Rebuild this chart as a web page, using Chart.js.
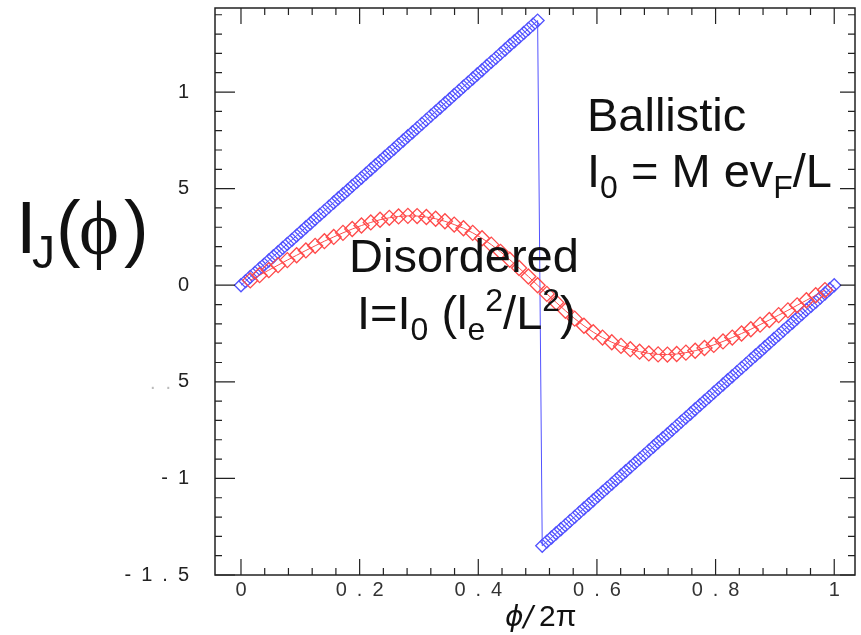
<!DOCTYPE html>
<html>
<head>
<meta charset="utf-8">
<script src="https://cdn.jsdelivr.net/npm/chart.js@4"></script>
<style>
  html, body { margin: 0; padding: 0; background: #fff; }
  #wrap { width: 861px; height: 635px; position: relative; }
</style>
</head>
<body>
<div id="wrap"><canvas id="jcChart"></canvas></div>
<script>
// ===================== Data =====================
const phiBallistic = [
  0, 0.0078, 0.0156, 0.0234, 0.0313, 0.0391, 0.0469, 0.0547, 0.0625, 0.0703, 0.0781, 0.0859, 0.0938, 0.1016, 0.1094, 0.1172,
  0.125, 0.1328, 0.1406, 0.1484, 0.1563, 0.1641, 0.1719, 0.1797, 0.1875, 0.1953, 0.2031, 0.2109, 0.2188, 0.2266, 0.2344, 0.2422,
  0.25, 0.2578, 0.2656, 0.2734, 0.2813, 0.2891, 0.2969, 0.3047, 0.3125, 0.3203, 0.3281, 0.3359, 0.3438, 0.3516, 0.3594, 0.3672,
  0.375, 0.3828, 0.3906, 0.3984, 0.4063, 0.4141, 0.4219, 0.4297, 0.4375, 0.4453, 0.4531, 0.4609, 0.4688, 0.4766, 0.4844, 0.4922,
  0.5,
  0.5078, 0.5156, 0.5234, 0.5313, 0.5391, 0.5469, 0.5547, 0.5625, 0.5703, 0.5781, 0.5859, 0.5938, 0.6016, 0.6094, 0.6172, 0.625,
  0.6328, 0.6406, 0.6484, 0.6563, 0.6641, 0.6719, 0.6797, 0.6875, 0.6953, 0.7031, 0.7109, 0.7188, 0.7266, 0.7344, 0.7422, 0.75,
  0.7578, 0.7656, 0.7734, 0.7813, 0.7891, 0.7969, 0.8047, 0.8125, 0.8203, 0.8281, 0.8359, 0.8438, 0.8516, 0.8594, 0.8672, 0.875,
  0.8828, 0.8906, 0.8984, 0.9063, 0.9141, 0.9219, 0.9297, 0.9375, 0.9453, 0.9531, 0.9609, 0.9688, 0.9766, 0.9844, 0.9922, 1
];
const currentBallistic = [
  0, 0.021, 0.043, 0.064, 0.086, 0.107, 0.128, 0.150, 0.171, 0.193, 0.214, 0.235, 0.257, 0.278, 0.300, 0.321,
  0.343, 0.364, 0.385, 0.407, 0.428, 0.450, 0.471, 0.492, 0.514, 0.535, 0.556, 0.578, 0.599, 0.621, 0.642, 0.664,
  0.685, 0.706, 0.728, 0.749, 0.771, 0.792, 0.813, 0.835, 0.856, 0.878, 0.899, 0.920, 0.942, 0.963, 0.985, 1.006,
  1.028, 1.049, 1.070, 1.092, 1.113, 1.135, 1.156, 1.177, 1.199, 1.220, 1.242, 1.263, 1.284, 1.306, 1.327, 1.349,
  1.370,
  -1.349, -1.327, -1.306, -1.284, -1.263, -1.242, -1.220, -1.199, -1.177, -1.156, -1.135, -1.113, -1.092, -1.070, -1.049, -1.028,
  -1.006, -0.985, -0.963, -0.942, -0.920, -0.899, -0.878, -0.856, -0.835, -0.813, -0.792, -0.771, -0.749, -0.728, -0.706, -0.685,
  -0.664, -0.642, -0.621, -0.599, -0.578, -0.556, -0.535, -0.514, -0.492, -0.471, -0.450, -0.428, -0.407, -0.385, -0.364, -0.343,
  -0.321, -0.300, -0.278, -0.257, -0.235, -0.214, -0.193, -0.171, -0.150, -0.128, -0.107, -0.086, -0.064, -0.043, -0.021, 0
];

const phiDisordered = [
  0.0156, 0.0313, 0.0469, 0.0625, 0.0781, 0.0938, 0.1094, 0.125, 0.1406, 0.1563, 0.1719, 0.1875, 0.2031, 0.2188, 0.2344, 0.25,
  0.2656, 0.2813, 0.2969, 0.3125, 0.3281, 0.3438, 0.3594, 0.375, 0.3906, 0.4063, 0.4219, 0.4375, 0.4531, 0.4688, 0.4844, 0.5,
  0.5156, 0.5313, 0.5469, 0.5625, 0.5781, 0.5938, 0.6094, 0.625, 0.6406, 0.6563, 0.6719, 0.6875, 0.7031, 0.7188, 0.7344, 0.75,
  0.7656, 0.7813, 0.7969, 0.8125, 0.8281, 0.8438, 0.8594, 0.875, 0.8906, 0.9063, 0.9219, 0.9375, 0.9531, 0.9688, 0.9844
];
const currentDisordered = [
  0.025, 0.052, 0.078, 0.104, 0.130, 0.155, 0.180, 0.204, 0.228, 0.250, 0.271, 0.291, 0.309, 0.325, 0.339, 0.349,
  0.356, 0.359, 0.358, 0.353, 0.344, 0.331, 0.314, 0.295, 0.271, 0.243, 0.210, 0.173, 0.132, 0.089, 0.045, 0,
  -0.045, -0.089, -0.132, -0.173, -0.210, -0.243, -0.271, -0.295, -0.314, -0.331, -0.344, -0.353, -0.358, -0.359, -0.356, -0.349,
  -0.339, -0.325, -0.309, -0.291, -0.271, -0.250, -0.228, -0.204, -0.180, -0.155, -0.130, -0.104, -0.078, -0.052, -0.025
];

const xTickValues = [0, 0.2, 0.4, 0.6, 0.8, 1];
const xTickLabels = ['0', '0\u2002.\u20022', '0\u2002.\u20024', '0\u2002.\u20026', '0\u2002.\u20028', '1'];
const yTickValues = [-1.5, -1, -0.5, 0, 0.5, 1];
const yTickLabels = ['-\u20021\u2002.\u20025', '-\u20021', '5', '0', '5', '1'];

const toPoints = (xs, ys) => xs.map((x, i) => ({ x: x, y: ys[i] }));

// ===================== Frame, inner ticks, labels =====================
const framePlugin = {
  id: 'frame',
  afterDraw(chart) {
    const { ctx, chartArea: a, scales: { x, y } } = chart;
    ctx.save();
    ctx.strokeStyle = '#222';
    ctx.lineWidth = 1.5;
    ctx.strokeRect(a.left, a.top, a.right - a.left, a.bottom - a.top);

    ctx.lineWidth = 1.2;
    ctx.beginPath();
    // x ticks, every 0.04, major every 0.2
    for (let i = 0; i <= 25; i++) {
      const px = x.getPixelForValue(i * 0.04);
      const len = i % 5 === 0 ? 16 : 7;
      ctx.moveTo(px, a.bottom); ctx.lineTo(px, a.bottom - len);
      ctx.moveTo(px, a.top); ctx.lineTo(px, a.top + len);
    }
    // y ticks, every 0.1, major every 0.5
    for (let i = -15; i <= 14; i++) {
      const py = y.getPixelForValue(i * 0.1);
      const len = i % 5 === 0 ? 20 : 7;
      ctx.moveTo(a.left, py); ctx.lineTo(a.left + len, py);
      ctx.moveTo(a.right, py); ctx.lineTo(a.right - (i % 5 === 0 ? 15 : 7), py);
    }
    ctx.stroke();

    // faint dots left of the -0.5 label
    ctx.fillStyle = '#bbb';
    ctx.font = '20px "Liberation Sans"';
    ctx.textAlign = 'left';
    ctx.textBaseline = 'middle';
    ctx.fillText('.\u2002.', 150, y.getPixelForValue(-0.5) + 2);

    // axis title
    ctx.fillStyle = '#111';
    ctx.textBaseline = 'alphabetic';
    const cx = (a.left + a.right) / 2;
    ctx.font = 'italic 28px "DejaVu Sans"';
    ctx.textAlign = 'right';
    ctx.fillText('\u03D5/', cx - 2, 626);
    ctx.textAlign = 'left';
    ctx.font = '30px "Liberation Sans"';
    ctx.fillText('2\u03C0', cx + 4, 626);

    // I_J(phi)
    ctx.font = '74px "Liberation Sans"';
    ctx.fillText('I', 16, 253);
    ctx.font = '46px "Liberation Sans"';
    ctx.fillText('J', 32, 268);
    ctx.font = '74px "Liberation Sans"';
    ctx.fillText('(', 56, 253);
    ctx.font = '76px "Liberation Serif"';
    ctx.fillText('\u03D5', 79, 254);
    ctx.font = '74px "Liberation Sans"';
    ctx.fillText(')', 124, 253);

    // annotations
    const runs = (x0, base, parts) => {
      let px = x0;
      parts.forEach(p => {
        ctx.font = p.size + 'px "Liberation Sans"';
        ctx.fillText(p.t, px, base + (p.dy || 0));
        px += ctx.measureText(p.t).width;
      });
    };
    runs(587, 131, [{ t: 'Ballistic', size: 47 }]);
    runs(587, 187, [{ t: 'I', size: 47 }, { t: '0', size: 32, dy: 11 }, { t: ' = M ev', size: 47 },
                    { t: 'F', size: 32, dy: 11 }, { t: '/L', size: 47 }]);
    runs(349, 272, [{ t: 'Disordered', size: 47 }]);
    runs(357, 329, [{ t: 'I=I', size: 47 }, { t: '0', size: 32, dy: 11 }, { t: ' (l', size: 47 },
                    { t: 'e', size: 32, dy: 11 }, { t: '2', size: 32, dy: -18 }, { t: '/L', size: 47 },
                    { t: '2', size: 32, dy: -18 }, { t: ')', size: 47 }]);
    ctx.restore();
  }
};

// ===================== Chart =====================
const ctx = document.getElementById('jcChart').getContext('2d');
new Chart(ctx, {
  type: 'line',
  data: {
    datasets: [
      {
        label: 'Disordered',
        data: toPoints(phiDisordered, currentDisordered),
        borderColor: '#ff4a4a',
        borderWidth: 1,
        pointStyle: 'rectRot',
        pointRadius: 7.5,
        pointBorderWidth: 1.3,
        pointBorderColor: '#ff4a4a',
        pointBackgroundColor: 'rgba(0,0,0,0)',
        fill: false,
        tension: 0
      },
      {
        label: 'Ballistic',
        data: toPoints(phiBallistic, currentBallistic),
        borderColor: '#5252ff',
        borderWidth: 1,
        pointStyle: 'rectRot',
        pointRadius: 6.5,
        pointBorderWidth: 1.3,
        pointBorderColor: '#5252ff',
        pointBackgroundColor: 'rgba(0,0,0,0)',
        fill: false,
        tension: 0
      }
    ]
  },
  options: {
    responsive: true,
    maintainAspectRatio: false,
    animation: false,
    layout: { autoPadding: false, padding: { top: 8, right: 6, left: 0, bottom: 0 } },
    plugins: {
      legend: { display: false },
      tooltip: { enabled: false }
    },
    scales: {
      x: {
        type: 'linear',
        min: -0.0438,
        max: 1.035,
        grid: { display: false },
        border: { display: false },
        afterBuildTicks: s => { s.ticks = xTickValues.map(v => ({ value: v })); },
        afterFit: s => { s.height = 60; s.paddingLeft = 0; s.paddingRight = 0; },
        ticks: {
          font: { family: 'Liberation Sans', size: 20 },
          color: '#333',
          padding: -5,
          maxRotation: 0,
          callback: v => xTickLabels[xTickValues.indexOf(v)]
        }
      },
      y: {
        type: 'linear',
        min: -1.5,
        max: 1.435,
        grid: { display: false },
        border: { display: false },
        afterBuildTicks: s => { s.ticks = yTickValues.map(v => ({ value: v })); },
        afterFit: s => { s.width = 215; s.paddingTop = 0; s.paddingBottom = 0; },
        ticks: {
          font: { family: 'Liberation Sans', size: 20 },
          color: '#222',
          padding: 18,
          callback: v => yTickLabels[yTickValues.indexOf(v)]
        }
      }
    }
  },
  plugins: [framePlugin]
});
</script>
</body>
</html>
